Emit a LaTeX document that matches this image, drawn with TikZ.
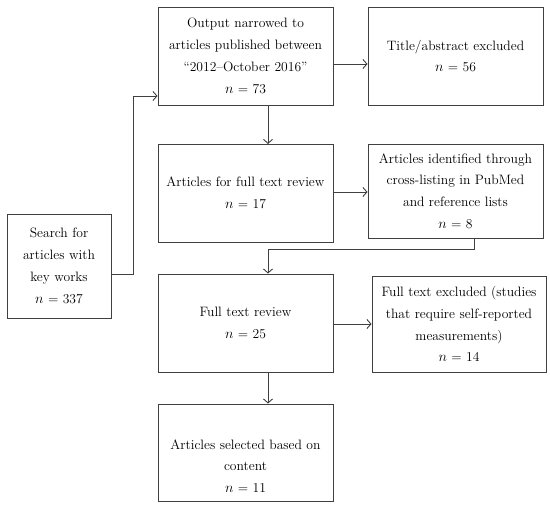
\documentclass[tikz,border=0pt]{standalone}
\usetikzlibrary{arrows.meta}
\begin{document}
\begin{tikzpicture}[x=1pt,y=-1pt,
  txt/.style={align=center,inner sep=0pt,font=\fontsize{13.6}{21.8}\selectfont,text=black},
  box/.style={txt,draw=black!75,line width=0.9pt},
  conn/.style={draw=black!75,line width=0.9pt,-{Straight Barb[length=4pt,width=9pt]}}]
\useasboundingbox (0,0) rectangle (550,507);
\node[box,minimum width=104pt,minimum height=104pt] (L) at (59,266)
  {Search for\\articles with\\key works\\$n$ = 337};
\node[box,minimum width=175pt,minimum height=98pt] (B1) at (245.5,56)
  {Output narrowed to\\articles published between\\``2012--October 2016''\\$n$ = 73};
\node[box,minimum width=175pt,minimum height=98pt] (B2) at (455.5,56)
  {Title/abstract excluded\\$n$ = 56};
\node[box,minimum width=175pt,minimum height=98pt] (B3) at (245.5,193)
  {Articles for full text review\\$n$ = 17};
\node[box,minimum width=175pt,minimum height=94pt] (B4) at (455.5,191)
  {Articles identified through\\cross-listing in PubMed\\and reference lists\\$n$ = 8};
\node[box,minimum width=175pt,minimum height=98pt] (B5) at (245.5,323)
  {Full text review\\$n$ = 25};
\node[box,minimum width=174pt,minimum height=96pt] (B6) at (459,324)
  {Full text excluded (studies\\that require self-reported\\measurements)\\$n$ = 14};
\node[box,minimum width=175pt,minimum height=97pt] (B7) at (245.5,452.5) {};
\node[txt] (B7t) at (245.5,466)
  {Articles selected based on\\content\\$n$ = 11};
\coordinate (c1) at (133,274);
\coordinate (c2) at (133,96);
\coordinate (c3) at (474,249);
\coordinate (c4) at (268,249);
\draw[conn] (L.east |- c1) -- (c1) -- (c2) -- (B1.west |- c2);
\draw[conn] (B1.east |- 0,64) -- (B2.west |- 0,64);
\draw[conn] (268,105) -- (268,144);
\draw[conn] (B3.east |- 0,192) -- (B4.west |- 0,192);
\draw[conn] (B4.south -| c3) -- (c3) -- (c4) -- (B5.north -| c4);
\draw[conn] (B5.east |- 0,324) -- (B6.west |- 0,324);
\draw[conn] (B5.south -| c4) -- (B7.north -| c4);
\end{tikzpicture}
\end{document}
